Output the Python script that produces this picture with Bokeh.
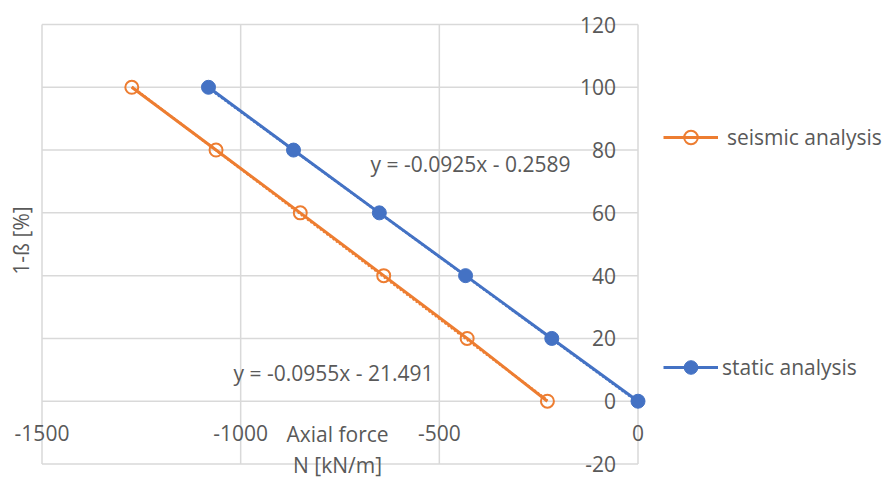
from bokeh.plotting import figure
from bokeh.models import Range1d, Label, Legend, LegendItem
from bokeh.core.properties import value
from bokeh.embed import file_html
from bokeh.resources import INLINE

# ---- data -------------------------------------------------------------
beta = [0, 20, 40, 60, 80, 100]                       # 1-ß [%]
static_n = [0, -217, -434, -651, -867, -1081]         # N [kN/m], static analysis
seismic_n = [-228, -430, -640, -850, -1062, -1274]    # N [kN/m], seismic analysis

static_fit = (-0.0925, -0.2589)     # slope, intercept of linear trend
seismic_fit = (-0.0955, -21.491)

x_ticks = [-1500, -1000, -500, 0]
x_tick_labels = ["-1500", "-1000", "-500", "0"]
y_ticks = [-20, 0, 20, 40, 60, 80, 100, 120]
y_tick_labels = ["-20", "0", "20", "40", "60", "80", "100", "120"]

# ---- layout -----------------------------------------------------------
W, H = 883, 478
PX_LEFT, PX_RIGHT = 41.5, 637.5     # canvas x of the first / last x tick
PY_TOP, PY_BOTTOM = 24.0, 463.5     # canvas y (from top) of the last / first y tick

ORANGE = "#ED7D31"
BLUE = "#4472C4"
GRID = "#D9D9D9"
TEXT = "#595959"
FONT = "Open Sans"
FS = "21px"

x_lo, x_hi = x_ticks[0], x_ticks[-1]
y_lo, y_hi = y_ticks[0], y_ticks[-1]
kx = (PX_RIGHT - PX_LEFT) / (x_hi - x_lo)
ky = (PY_BOTTOM - PY_TOP) / (y_hi - y_lo)

p = figure(
    width=W, height=H,
    x_range=Range1d(x_lo - PX_LEFT / kx, x_hi + (W - PX_RIGHT) / kx),
    y_range=Range1d(y_lo - (H - PY_BOTTOM) / ky, y_hi + PY_TOP / ky),
    x_axis_location=None, y_axis_location=None,
    toolbar_location=None, output_backend="svg",
    min_border=0, outline_line_color=None,
    background_fill_color="white", border_fill_color="white",
)
p.grid.visible = False

# gridlines limited to the plot area
p.segment(x0=x_ticks, y0=y_lo, x1=x_ticks, y1=y_hi, line_color=GRID, line_width=1.5)
p.segment(x0=x_lo, y0=y_ticks, x1=x_hi, y1=y_ticks, line_color=GRID, line_width=1.5)

# tick labels: x labels hang below the y=0 line, y labels sit left of x=0
p.text(x=x_ticks, y=[0] * len(x_ticks), text=x_tick_labels, y_offset=32,
       text_align="center", text_baseline="middle",
       text_font=value(FONT), text_font_size=FS, text_color=TEXT)
p.text(x=[0] * len(y_ticks), y=y_ticks, text=y_tick_labels, x_offset=-22,
       text_align="right", text_baseline="middle",
       text_font=value(FONT), text_font_size=FS, text_color=TEXT)

# dotted linear trendlines
for xs, (a, b), c in ((seismic_n, seismic_fit, ORANGE), (static_n, static_fit, BLUE)):
    ends = [min(xs), max(xs)]
    p.line(ends, [a * e + b for e in ends], line_color=c, line_width=2.5, line_dash="2 2")

# series
l_seis = p.line(seismic_n, beta, line_color=ORANGE, line_width=3)
m_seis = p.scatter(seismic_n, beta, marker="circle", size=13, fill_color="white",
                   fill_alpha=0, line_color=ORANGE, line_width=2)
l_stat = p.line(static_n, beta, line_color=BLUE, line_width=3)
m_stat = p.scatter(static_n, beta, marker="circle", size=14, fill_color=BLUE, line_color=BLUE)

# one legend entry per series, stacked far apart on the right
def legend_for(label, renderers, left, center_from_top, standoff):
    gh = 34
    return Legend(
        items=[LegendItem(label=label, renderers=renderers)],
        location=(left, H - center_from_top - gh / 2),
        glyph_width=55, glyph_height=gh, label_height=gh,
        label_standoff=standoff, padding=0, margin=0, spacing=0,
        border_line_color=None, background_fill_alpha=0,
        label_text_font=FONT, label_text_font_size=FS, label_text_color=TEXT,
    )

p.add_layout(legend_for("seismic analysis", [l_seis, m_seis], 663, 137, 9))
p.add_layout(legend_for("static analysis", [l_stat, m_stat], 663, 367, 4))

# trend equations
def note(text, x, y_from_top, **kw):
    p.add_layout(Label(x=x, y=H - y_from_top, x_units="screen", y_units="screen",
                       text=text, text_font=FONT, text_font_size=FS, text_color=TEXT,
                       text_baseline="middle", **kw))

note("y = -0.0925x - 0.2589", 370, 163)
note("y = -0.0955x - 21.491", 233, 372)

# axis titles
note("1-ß [%]", 20, 240, angle=90, angle_units="deg", text_align="center")
note("Axial force", 337, 433, text_align="center")
note("N [kN/m]", 337, 464, text_align="center")

open("out.html", "w").write(file_html(p, INLINE))
